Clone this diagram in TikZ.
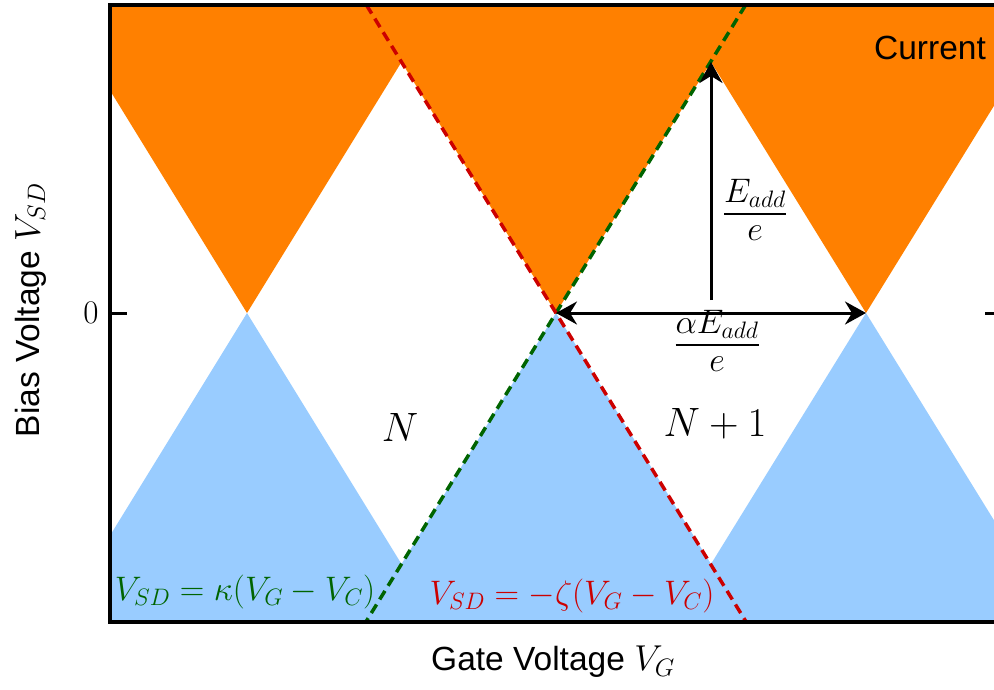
\RequirePackage{fix-cm}
\documentclass[tikz,border=0pt]{standalone}
\usepackage{fontspec}
\newfontfamily\arialfont{Liberation Sans}
\usetikzlibrary{arrows.meta}
\definecolor{corange}{RGB}{255,128,0}
\definecolor{cblue}{RGB}{153,204,255}
\definecolor{cgreen}{RGB}{0,100,0}
\definecolor{cred}{RGB}{204,0,0}
\newcommand{\stackfrac}[2]{\begingroup\setlength{\arrayrulewidth}{2.4pt}\renewcommand{\arraystretch}{0.9}\begin{array}{@{}c@{}}#1\\\hline #2\end{array}\endgroup}
\tikzset{
  sansbig/.style={font=\arialfont\fontsize{33.5}{40}\selectfont},
  mathbig/.style={font=\fontsize{34}{40}\selectfont},
  dashline/.style={line width=3.5pt, dash pattern=on 10pt off 6pt},
  arrowline/.style={line width=3pt},
  tip/.tip={Stealth[length=21pt,width=23pt,inset=7pt]},
}
\begin{document}
\begin{tikzpicture}[x=1pt,y=-1pt]
\path[use as bounding box] (0,0) rectangle (994,689);
\begin{scope}
\clip (0,0) rectangle (994,689);
% key coordinates
\coordinate (v1) at (247,313);
\coordinate (v2) at (556,313);
\coordinate (v3) at (866,313);
\coordinate (t1) at (401.5,62);
\coordinate (t2) at (711,62);
\coordinate (b1) at (401.5,564);
\coordinate (b2) at (711,564);
% orange current regions
\fill[corange] (110,5) -- (110,90.4) -- (v1) -- (t1) -- (v2) -- (t2) -- (v3) -- (1021,62) -- (1021,5) -- cycle;
% blue current regions
\fill[cblue] (110,622) -- (110,535.6) -- (v1) -- (b1) -- (v2) -- (b2) -- (v3) -- (1021,564) -- (1021,622) -- cycle;
% dashed lines
\coordinate (gtop) at (745.6,5);
\coordinate (gbot) at (365.8,622);
\coordinate (rtop) at (366.4,5);
\coordinate (rbot) at (746.2,622);
\draw[dashline, cgreen] (gtop) -- (gbot);
\draw[dashline, cred] (rtop) -- (rbot);
% frame
\draw[line width=4pt] (1001,5) rectangle (110,622);
\coordinate (tl0) at (110,313);
\coordinate (tl1) at (127,313);
\coordinate (tr0) at (1001,313);
\coordinate (tr1) at (985,313);
\draw[line width=3pt] (tl0) -- (tl1);
\draw[line width=3pt] (tr0) -- (tr1);
% arrows
\coordinate (abase) at (711,300);
\draw[arrowline, -tip] (abase) -- (t2);
\draw[arrowline, tip-tip] (v2) -- (v3);
\end{scope}
% labels
\node[font=\fontsize{33}{38}\selectfont] (zero) at (91,313) {$0$};
\node[mathbig, inner sep=0pt] (eadd) at (755,214) {$\stackfrac{E_{add}}{e}$};
\node[mathbig, inner sep=0pt] (aeadd) at (717,345) {$\stackfrac{\alpha E_{add}}{e}$};
\node[font=\fontsize{41}{48}\selectfont] (nlab) at (400,427) {$N$};
\node[font=\fontsize{41}{48}\selectfont] (n1lab) at (715,424) {$N+1$};
\node[mathbig, text=cgreen] (geq) at (245,592) {$V_{SD}=\kappa(V_G-V_C)$};
\node[mathbig, text=cred] (req) at (572,596) {$V_{SD}=-\zeta(V_G-V_C)$};
\node[sansbig] (cur) at (930,48) {Current};
\node[sansbig] (xlab) at (553,662) {Gate Voltage {\fontsize{36}{40}\selectfont$V_G$}};
\node[sansbig, rotate=90] (ylab) at (31,310) {Bias Voltage {\fontsize{36}{40}\selectfont$V_{SD}$}};
\end{tikzpicture}
\end{document}
